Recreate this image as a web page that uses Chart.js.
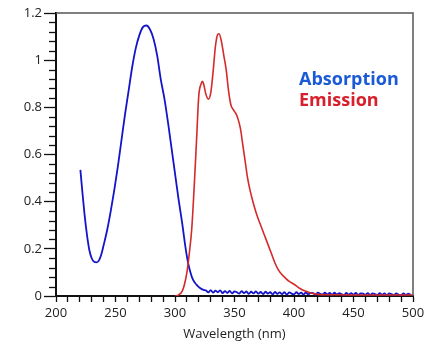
<!DOCTYPE html>
<html>
<head>
<meta charset="utf-8">
<script src="https://cdn.jsdelivr.net/npm/chart.js@4.4.0/dist/chart.umd.min.js"></script>
<style>
html,body{margin:0;padding:0;background:#fff;}
#wrap{position:relative;width:429px;height:342px;}
</style>
</head>
<body>
<div id="wrap"><canvas id="c" width="429" height="342"></canvas></div>
<script>
const xTickLabels = [200, 250, 300, 350, 400, 450, 500];
const yTickLabels = [0, 0.2, 0.4, 0.6, 0.8, 1, 1.2];
const seriesNames = ['Absorption', 'Emission'];

const absWavelength = [220.5,222,224,226,228,230,232,234,236,238,240,243,246,249,252,255,258,261,264,267,270,273,276,279,282,285,288,291,294,297,300,303,306,309,311,313,315,318,321,324,
326,328,330,332,334,336,338,340,342,344,346,348,350,352,354,356,358,360,362,364,366,368,370,372,374,376,378,380,382,384,386,388,390,392,394,396,398,400,402,404,406,408,410,412,414,416,418,420,422,424,426,428,430,432,434,436,438,440,442,444,446,448,450,452,454,456,458,460,462,464,466,468,470,472,474,476,478,480,482,484,486,488,490,492,494,496,498,500];
const absValue = [0.535,0.45,0.345,0.26,0.195,0.16,0.145,0.143,0.15,0.175,0.215,0.28,0.36,0.45,0.55,0.66,0.77,0.87,0.97,1.05,1.105,1.14,1.147,1.13,1.09,1.02,0.92,0.84,0.74,0.63,0.52,0.41,0.31,0.2,0.14,0.1,0.07,0.048,0.034,0.026,
0.024,0.015,0.025,0.014,0.023,0.016,0.024,0.012,0.021,0.013,0.022,0.011,0.020,0.016,0.010,0.021,0.012,0.019,0.009,0.018,0.011,0.020,0.010,0.017,0.008,0.018,0.010,0.016,0.007,0.017,0.009,0.015,0.008,0.016,0.006,0.015,0.010,0.007,0.016,0.008,0.014,0.006,0.015,0.007,0.013,0.012,0.005,0.014,0.009,0.006,0.014,0.007,0.013,0.005,0.014,0.006,0.012,0.008,0.004,0.013,0.006,0.012,0.005,0.013,0.004,0.011,0.010,0.005,0.012,0.004,0.011,0.008,0.004,0.012,0.005,0.011,0.003,0.011,0.008,0.004,0.011,0.005,0.003,0.011,0.004,0.010,0.006];

const emWavelength = [300,303,306,308,310,312,314,316,318,320,322,323,324,326,328,330,332,334,336,337,339,341,343,345,347,349,351,353,355,357,359,361,363,366,369,372,375,378,381,384,387,390,393,396,400,405,410,415,420,430,440,450,460,470,480,490,500];
const emValue = [0,0.005,0.02,0.05,0.1,0.18,0.28,0.45,0.65,0.85,0.9,0.91,0.9,0.855,0.835,0.86,0.95,1.06,1.11,1.112,1.08,1.02,0.96,0.87,0.81,0.79,0.775,0.75,0.71,0.64,0.57,0.5,0.45,0.39,0.34,0.3,0.26,0.22,0.18,0.14,0.11,0.09,0.075,0.062,0.05,0.032,0.02,0.012,0.007,0.005,0.005,0.004,0.004,0.004,0.004,0.004,0.004];

const absPts = absWavelength.map((x,i)=>({x:x,y:absValue[i]}));
const emPts = emWavelength.map((x,i)=>({x:x,y:emValue[i]}));

const FONT = "'Open Sans', 'DejaVu Sans', sans-serif";

const decor = {
  id:'decor',
  afterDraw(chart){
    const ctx = chart.ctx, ca = chart.chartArea;
    const ys = chart.scales.y;
    ctx.save();
    ctx.strokeStyle = '#555';
    ctx.lineWidth = 1.5;
    ctx.beginPath();
    ctx.moveTo(ca.left, ca.top); ctx.lineTo(ca.right, ca.top); ctx.lineTo(ca.right, ca.bottom);
    ctx.stroke();
    ctx.strokeStyle = '#111';
    ctx.lineWidth = 1.3;
    for (let k=0;k<=30;k++){
      if (k%5===0) continue;
      const py = Math.round(ys.getPixelForValue(k*0.04))+0.5;
      ctx.beginPath();
      ctx.moveTo(ca.left-7, py); ctx.lineTo(ca.left, py);
      ctx.stroke();
    }
    ctx.font = "bold 18px " + FONT;
    ctx.textBaseline = 'alphabetic';
    ctx.textAlign = 'left';
    ctx.fillStyle = '#1a5ad7';
    ctx.fillText(seriesNames[0], 299, 85);
    ctx.fillStyle = '#d7202c';
    ctx.fillText(seriesNames[1], 299, 106);
    ctx.restore();
  }
};

new Chart(document.getElementById('c'), {
  type:'line',
  data:{
    datasets:[
      {label:seriesNames[1], data:emPts, borderColor:'#d42a2a', borderWidth:1.6, pointRadius:0, cubicInterpolationMode:'monotone', fill:false},
      {label:seriesNames[0], data:absPts, borderColor:'#1414c8', borderWidth:1.8, pointRadius:0, cubicInterpolationMode:'monotone', fill:false}
    ]
  },
  options:{
    responsive:false,
    animation:false,
    devicePixelRatio:1,
    layout:{padding:{top:13,right:16,left:0,bottom:0}},
    plugins:{legend:{display:false},tooltip:{enabled:false}},
    scales:{
      x:{
        type:'linear', min:200, max:500,
        afterFit(s){ s.height = 46; },
        afterBuildTicks(s){ const t=[]; for(let v=200;v<=500;v+=10) t.push({value:v}); s.ticks=t; },
        ticks:{autoSkip:false, maxRotation:0, padding:3, color:'#222', font:{family:FONT,size:13},
          callback:(v)=> xTickLabels.includes(v) ? String(v) : ''},
        grid:{drawOnChartArea:false, drawTicks:true, tickLength:6, tickColor:'#111', tickWidth:1.3},
        border:{display:true, color:'#111', width:2},
        title:{display:true, text:'Wavelength (nm)', color:'#222', font:{family:FONT,size:13}, padding:{top:0,bottom:0}}
      },
      y:{
        type:'linear', min:0, max:1.2,
        afterFit(s){ s.width = 56; },
        afterBuildTicks(s){ s.ticks = yTickLabels.map(v=>({value:v})); },
        ticks:{padding:2, color:'#222', font:{family:FONT,size:13},
          callback:(v)=> String(Math.round(v*10)/10)},
        grid:{drawOnChartArea:false, drawTicks:true, tickLength:12, tickColor:'#111', tickWidth:1.3},
        border:{display:true, color:'#111', width:2}
      }
    }
  },
  plugins:[decor]
});
</script>
</body>
</html>
